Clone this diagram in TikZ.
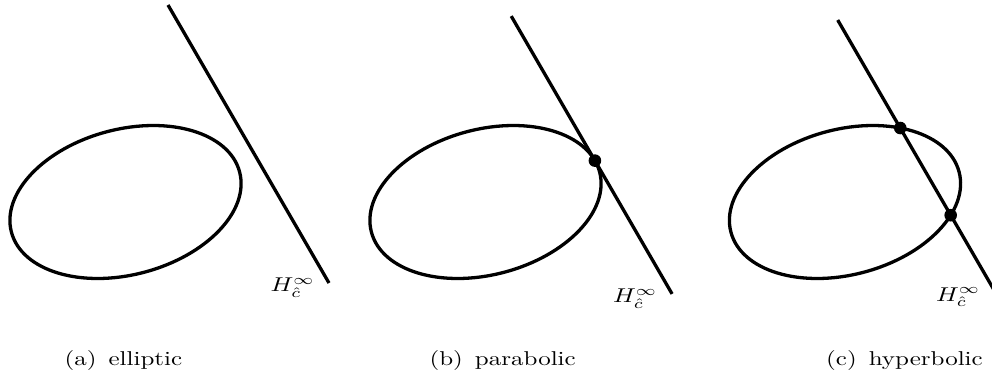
\documentclass[tikz,border=0pt]{standalone}
\usetikzlibrary{calc,intersections}
\newcommand{\wide}[1]{\scalebox{1.25}[1]{#1}}
\begin{document}
\begin{tikzpicture}[x=0.5pt,y=0.5pt,
  curve/.style={line width=1.65pt},
  dotmark/.style={fill=black},
  lbl/.style={inner sep=0pt,anchor=north east},
  captext/.style={inner sep=0pt,anchor=base west}]
\useasboundingbox (0,0) rectangle (992,382);
\clip (0,0) rectangle (992,382);

% ---------- (a) elliptic ----------
\draw[curve,shift={(125.5,180)},rotate=14.8] (0,0) ellipse[x radius=118,y radius=72.7];
\coordinate (a1) at (168,377);
\coordinate (a2) at (329,99);
\draw[curve] (a1) -- (a2);
\node[lbl] (ha) at ($(a2)+(-14,5.5)$) {\wide{$H^{\infty}_{\hat{c}}$}};
\node[captext] (capa) at (64.2,17) {\wide{(a)\hspace{4.8pt}elliptic}};

% ---------- (b) parabolic ----------
\draw[curve,shift={(485.5,180)},rotate=14.8] (0,0) ellipse[x radius=118,y radius=72.7];
\begin{scope}[shift={(485.5,180)},rotate=14.8]
  \coordinate (tb) at ({118*cos(9.55)},{72.7*sin(9.55)});
\end{scope}
\coordinate (b1) at ($(tb)+(120.07:167)$);
\coordinate (b2) at ($(tb)+(-59.93:154)$);
\draw[curve] (b1) -- (b2);
\fill[dotmark] (tb) circle[radius=6.3];
\node[lbl] (hb) at ($(b2)+(-14.5,5.5)$) {\wide{$H^{\infty}_{\hat{c}}$}};
\node[captext] (capb) at (429.2,17) {\wide{(b)\hspace{4.8pt}parabolic}};

% ---------- (c) hyperbolic ----------
\draw[curve,name path=ellc,shift={(845,180)},rotate=14.8] (0,0) ellipse[x radius=118,y radius=72.7];
\coordinate (c1) at (837.7,362);
\coordinate (c2) at ($(c1)+(-59.93:315)$);
\draw[curve,name path=linec] (c1) -- (c2);
\fill[dotmark,name intersections={of=ellc and linec,name=ic}]
  (ic-1) circle[radius=6.3] (ic-2) circle[radius=6.3];
\node[lbl] (hc) at ($(c2)+(-15,5.5)$) {\wide{$H^{\infty}_{\hat{c}}$}};
\node[captext] (capc) at (825.8,17) {\wide{(c)\hspace{4.8pt}hyperbolic}};
\end{tikzpicture}
\end{document}
